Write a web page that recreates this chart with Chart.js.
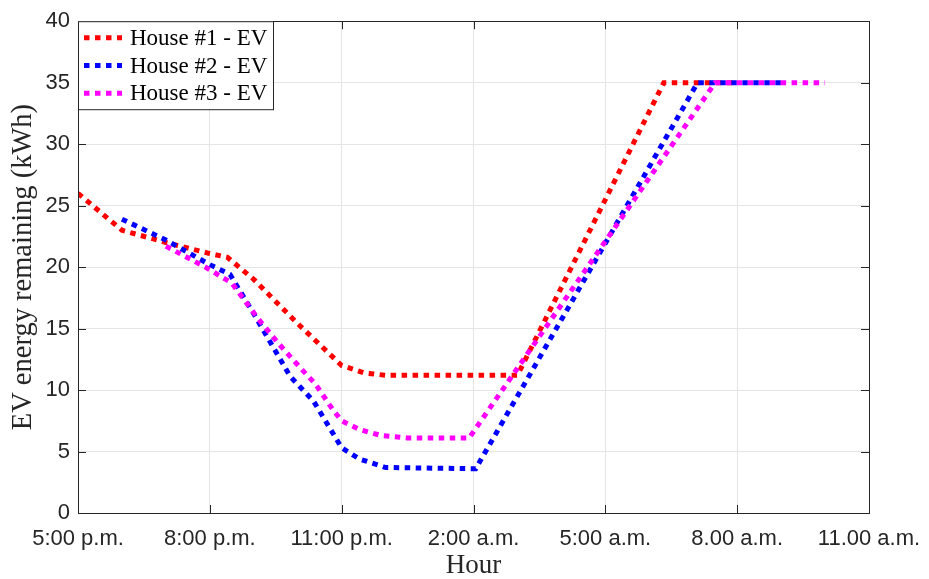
<!DOCTYPE html>
<html lang="en">
<head>
    <meta charset="UTF-8">
    <title>EV energy remaining</title>
    <script src="https://cdn.jsdelivr.net/npm/chart.js"></script>
    <style>
        body {
            margin: 0;
            background: #ffffff;
        }
        canvas {
            display: block;
        }
    </style>
</head>
<body>
    <canvas id="chartEV" width="929" height="579"></canvas>

    <script>
        // x ticks every 3 hours starting at 5 p.m.
        const hourLabels = ["5:00 p.m.", "8:00 p.m.", "11:00 p.m.", "2:00 a.m.", "5:00 a.m.", "8.00 a.m.", "11.00 a.m."];
        const seriesNames = ["House #1 - EV", "House #2 - EV", "House #3 - EV"];
        const seriesColors = ["#ff0000", "#0000ff", "#ff00ff"];

        // hours after 5 p.m. / kWh left in the battery
        const house1Hours  = [0, 1, 2, 3, 3.4, 4, 5, 6, 6.5, 7, 10, 13.33, 15];
        const house1Energy = [26, 23, 22, 21.1, 20.8, 19, 15.4, 12, 11.4, 11.2, 11.2, 35, 35];

        const house2Hours  = [1, 2, 3, 3.46, 4, 4.83, 5.36, 6, 6.4, 7, 9.05, 14.1, 16];
        const house2Energy = [23.9, 22.2, 20.2, 19.4, 16.2, 11.1, 9.1, 5.3, 4.4, 3.7, 3.6, 35, 35];

        const house3Hours  = [2, 2.9, 3.5, 4.1, 4.56, 5.06, 5.4, 5.8, 6, 6.4, 6.9, 7.5, 8.9, 14.5, 17];
        const house3Energy = [21.7, 20.0, 18.7, 15.8, 13.8, 11.8, 10.5, 8.4, 7.5, 6.8, 6.3, 6.1, 6.1, 35, 35];

        const axisColor = "#262626";
        const toPoints = (xs, ys) => xs.map((x, i) => ({ x: x, y: ys[i] }));

        const makeSet = (i, xs, ys) => ({
            label: seriesNames[i],
            data: toPoints(xs, ys),
            borderColor: seriesColors[i],
            backgroundColor: seriesColors[i],
            borderWidth: 5,
            borderDash: [5.5, 5.5],
            borderCapStyle: "butt",
            pointRadius: 0,
            tension: 0,
            fill: false,
            order: 3 - i
        });

        // box around plot, inward tick marks, legend inside the top-left corner
        const matlabFrame = {
            id: "matlabFrame",
            afterDraw(chart) {
                const ctx = chart.ctx;
                const a = chart.chartArea;
                const xs = chart.scales.x, ys = chart.scales.y;
                ctx.save();
                ctx.strokeStyle = axisColor;
                ctx.lineWidth = 1;
                ctx.beginPath();
                ys.ticks.forEach(t => {
                    const p = Math.round(ys.getPixelForValue(t.value)) + 0.5;
                    ctx.moveTo(a.left, p); ctx.lineTo(a.left + 8, p);
                    ctx.moveTo(a.right, p); ctx.lineTo(a.right - 8, p);
                });
                xs.ticks.forEach(t => {
                    const p = Math.round(xs.getPixelForValue(t.value)) + 0.5;
                    ctx.moveTo(p, a.bottom); ctx.lineTo(p, a.bottom - 8);
                    ctx.moveTo(p, a.top); ctx.lineTo(p, a.top + 8);
                });
                ctx.stroke();
                ctx.strokeRect(Math.round(a.left) + 0.5, Math.round(a.top) + 0.5,
                    Math.round(a.right - a.left), Math.round(a.bottom - a.top));

                // legend
                const lx = a.left, ly = a.top, lw = 195, lh = 88;
                ctx.fillStyle = "#ffffff";
                ctx.fillRect(lx, ly, lw, lh);
                ctx.strokeStyle = axisColor;
                ctx.strokeRect(lx + 0.5, ly + 0.5, lw, lh);
                ctx.font = "23px 'Liberation Serif', 'DejaVu Serif', serif";
                ctx.textBaseline = "middle";
                ctx.textAlign = "left";
                chart.data.datasets.forEach((ds, i) => {
                    const cy = ly + 16.5 + i * 27.8;
                    ctx.save();
                    ctx.strokeStyle = ds.borderColor;
                    ctx.lineWidth = 5;
                    ctx.setLineDash([5.5, 5.5]);
                    ctx.beginPath();
                    ctx.moveTo(lx + 6, cy);
                    ctx.lineTo(lx + 44, cy);
                    ctx.stroke();
                    ctx.restore();
                    ctx.fillStyle = "#000000";
                    ctx.fillText(ds.label, lx + 52, cy + 1);
                });
                ctx.restore();
            }
        };

        const chartEV = new Chart(document.getElementById("chartEV").getContext("2d"), {
            type: "line",
            data: {
                datasets: [
                    makeSet(0, house1Hours, house1Energy),
                    makeSet(1, house2Hours, house2Energy),
                    makeSet(2, house3Hours, house3Energy)
                ]
            },
            options: {
                responsive: false,
                devicePixelRatio: 1,
                animation: false,
                layout: { padding: { top: 18, right: 60, left: 0, bottom: 0 } },
                plugins: {
                    legend: { display: false },
                    tooltip: { enabled: false }
                },
                scales: {
                    x: {
                        type: "linear",
                        min: 0,
                        max: 18,
                        afterFit: s => {
                            s.height = 66;
                            s.paddingLeft = 0;
                            s.paddingRight = 0;
                        },
                        border: { display: false },
                        grid: { color: "#e5e5e5", drawTicks: false },
                        ticks: {
                            stepSize: 3,
                            padding: 13,
                            maxRotation: 0,
                            color: axisColor,
                            font: { family: "'Liberation Sans', Arial, sans-serif", size: 22 },
                            callback: v => hourLabels[v / 3]
                        },
                        title: {
                            display: true,
                            text: "Hour",
                            color: axisColor,
                            padding: { top: 0, bottom: 0 },
                            font: { family: "'Liberation Serif', serif", size: 27, lineHeight: 1 }
                        }
                    },
                    y: {
                        min: 0,
                        max: 40,
                        afterFit: s => { s.width = 78; },
                        border: { display: false },
                        grid: { color: "#e5e5e5", drawTicks: false },
                        ticks: {
                            stepSize: 5,
                            padding: 8,
                            color: axisColor,
                            font: { family: "'Liberation Sans', Arial, sans-serif", size: 22 }
                        },
                        title: {
                            display: true,
                            text: "EV energy remaining (kWh)",
                            color: axisColor,
                            padding: { top: 9, bottom: 0 },
                            font: { family: "'Liberation Serif', serif", size: 28.5, lineHeight: 1 }
                        }
                    }
                }
            },
            plugins: [matlabFrame]
        });
    </script>
</body>
</html>
